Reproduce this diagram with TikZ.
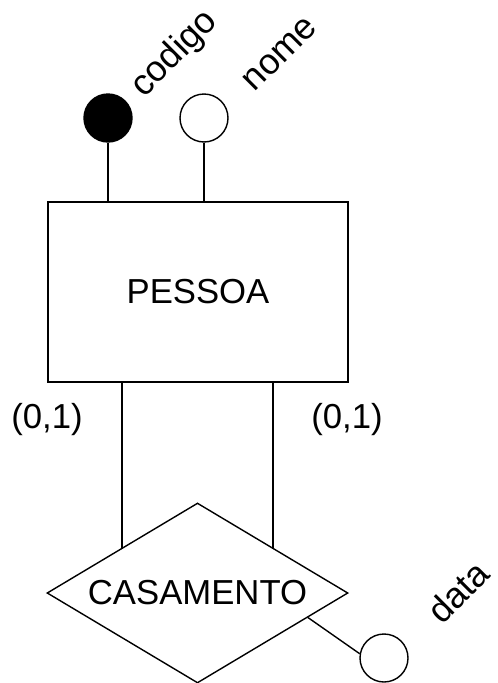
\documentclass[tikz,border=0pt]{standalone}
\usepackage{fontspec}
\setmainfont{Liberation Sans}
\usetikzlibrary{shapes.geometric,calc}
\begin{document}
\begin{tikzpicture}[x=1pt,y=-1pt,
  every node/.style={font=\fontsize{34.7}{40}\selectfont},
  ln/.style={line width=1.4pt,draw=black},
  entity/.style={ln,rectangle,minimum width=300pt,minimum height=180pt,inner sep=0pt},
  rel/.style={ln,diamond,aspect=1.67,minimum width=301pt,minimum height=180pt,inner sep=0pt},
  keyattr/.style={ln,circle,fill=black,minimum size=48pt,inner sep=0pt},
  attr/.style={ln,circle,fill=white,minimum size=48pt,inner sep=0pt},
  lbl/.style={inner sep=0pt},
  rlbl/.style={inner sep=0pt,rotate=45,font=\fontsize{36}{40}\selectfont}
]
\useasboundingbox (0,0) rectangle (498,683);
\node[entity] (pessoa) at (198,292) {PESSOA};
\node[rel] (cas) at (197.5,593) {CASAMENTO};
\node[keyattr] (cod) at (108,118) {};
\node[attr] (nome) at (204,118) {};
\node[attr] (data) at (384,658) {};
\node[rlbl] (tcod) at (175,54) {codigo};
\node[rlbl] (tnome) at (280,54) {nome};
\node[rlbl] (tdata) at (458,592) {data};
\node[lbl] (c1) at (47,420) {(0,1)};
\node[lbl] (c2) at (347,420) {(0,1)};
\coordinate (e1) at ($(cas.west)!0.5!(cas.north)$);
\coordinate (e2) at ($(cas.north)!0.5!(cas.east)$);
\coordinate (e3) at ($(cas.east)!0.27!(cas.south)$);
\draw[ln] (cod.south) -- (cod.south |- pessoa.north);
\draw[ln] (nome.south) -- (nome.south |- pessoa.north);
\draw[ln] (e1 |- pessoa.south) -- (e1);
\draw[ln] (e2 |- pessoa.south) -- (e2);
\draw[ln] (e3) -- (data.170);
\end{tikzpicture}
\end{document}
